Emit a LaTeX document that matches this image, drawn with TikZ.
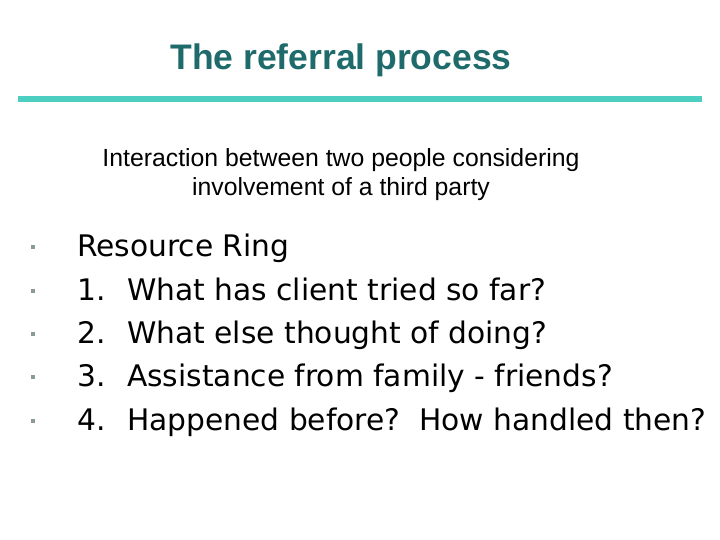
\documentclass[tikz,border=0pt]{standalone}
\usepackage{fontspec}
\setmainfont{Liberation Sans}
\newfontfamily\verd{DejaVu Sans}
\definecolor{titlec}{HTML}{1F6B6B}
\definecolor{rulec}{HTML}{4CCFC0}
\definecolor{bulc}{HTML}{8A9A9A}
\begin{document}
\begin{tikzpicture}[x=1pt,y=-1pt,
  item/.style={anchor=base west,inner sep=0pt,font=\verd\fontsize{29.7}{34}\selectfont},
  bul/.style={fill=bulc,minimum size=4.5pt,inner sep=0pt},
  sub/.style={inner sep=0pt,font=\fontsize{24.8}{29}\selectfont}]
\useasboundingbox (0,0) rectangle (720,540);
\node[inner sep=0pt,text=titlec,font=\bfseries\fontsize{35.5}{40}\selectfont] (title) at (341,60) {The referral process};
\draw[rulec,line width=6pt] (18,99) coordinate (r1) -- (702,99) coordinate (r2);
\node[sub] (s1) at (341,160) {Interaction between two people considering};
\node[sub] (s2) at (341,189) {involvement of a third party};
\foreach \y/\n/\t [count=\i] in {256/{}/{Resource Ring},300/1./{What has client tried so far?},343/2./{What else thought of doing?},386/3./{Assistance from family - friends?},430/4./{Happened before?\ \ How handled then?}}{
  \node[bul] (b\i) at (33,\y-9) {};
  \ifnum\i=1
    \node[item] (t\i) at (77,\y) {\t};
  \else
    \node[item] (n\i) at (77,\y) {\n};
    \node[item] (t\i) at (127,\y) {\t};
  \fi
}
\end{tikzpicture}
\end{document}
